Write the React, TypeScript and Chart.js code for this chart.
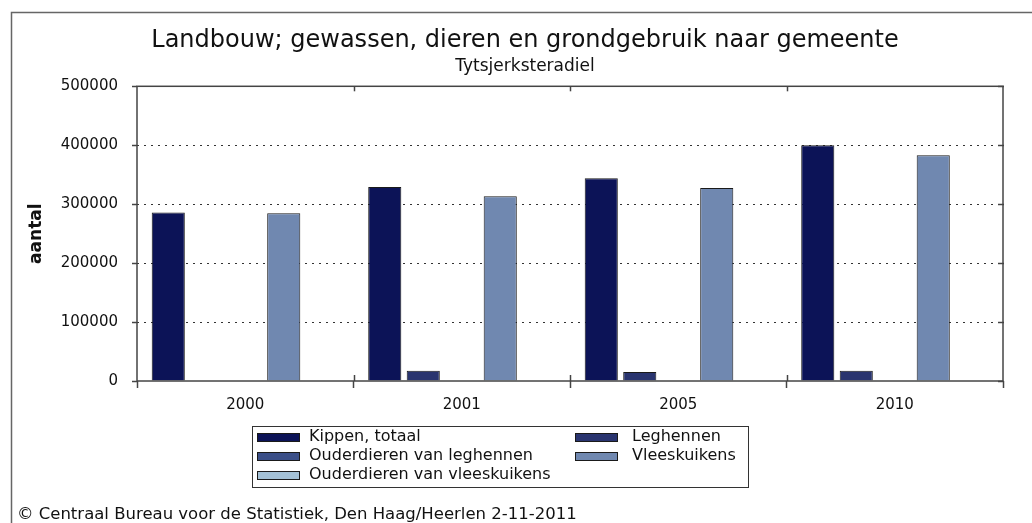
import React, { useEffect, useRef } from "react";
import { Chart, registerables } from "chart.js";

Chart.register(...registerables);

const W = 1032;
const H = 523;

const categories = ["2000", "2001", "2005", "2010"];
const kippenTotaal = [286000, 329000, 344000, 400000];
const leghennen = [null, 17500, 15300, 17500];
const ouderdierenLeghennen = [null, null, null, null];
const vleeskuikens = [284500, 313500, 327600, 383000];
const ouderdierenVleeskuikens = [null, null, null, null];

const seriesLabels = [
  "Kippen, totaal",
  "Leghennen",
  "Ouderdieren van leghennen",
  "Vleeskuikens",
  "Ouderdieren van vleeskuikens",
];
const seriesColors = ["#0c1357", "#29346f", "#3b4f88", "#7088b0", "#a4c1d6"];
const yTicks = [0, 100000, 200000, 300000, 400000, 500000];

const titleText = "Landbouw; gewassen, dieren en grondgebruik naar gemeente";
const subtitleText = "Tytsjerksteradiel";
const yAxisTitle = "aantal";
const footerText = "© Centraal Bureau voor de Statistiek, Den Haag/Heerlen 2-11-2011";

const FONT = "'DejaVu Sans', Verdana, sans-serif";

const decorPlugin = {
  id: "cbsDecor",
  beforeDraw(chart: any) {
    const { ctx, width, height } = chart;
    ctx.save();
    ctx.fillStyle = "#ffffff";
    ctx.fillRect(0, 0, width, height);
    ctx.restore();
  },
  afterDraw(chart: any) {
    const { ctx, chartArea: a, scales } = chart;
    const ys = scales.y;
    const xs = scales.x;
    const line = (x1: number, y1: number, x2: number, y2: number) => {
      ctx.beginPath();
      ctx.moveTo(x1, y1);
      ctx.lineTo(x2, y2);
      ctx.stroke();
    };
    ctx.save();
    // outer frame
    ctx.strokeStyle = "#666";
    ctx.lineWidth = 1.5;
    ctx.beginPath();
    ctx.moveTo(11.5, chart.height);
    ctx.lineTo(11.5, 12.5);
    ctx.lineTo(chart.width, 12.5);
    ctx.stroke();

    // plot border
    ctx.strokeStyle = "#444";
    ctx.lineWidth = 1.5;
    ctx.strokeRect(a.left, a.top, a.right - a.left, a.bottom - a.top);

    // right-side tick marks
    yTicks.forEach((v) => {
      const py = Math.round(ys.getPixelForValue(v)) + 0.5;
      line(a.right - 5, py, a.right + 1, py);
    });
    // category boundary ticks (top, inner bottom)
    for (let i = 1; i < categories.length; i++) {
      const px = Math.round((xs.getPixelForValue(i - 1) + xs.getPixelForValue(i)) / 2) + 0.5;
      line(px, a.top, px, a.top + 5);
      line(px, a.bottom - 6, px, a.bottom);
    }

    // legend box
    const bx = 252, by = 426, bw = 496, bh = 61;
    ctx.strokeStyle = "#333";
    ctx.lineWidth = 1;
    ctx.strokeRect(bx + 0.5, by + 0.5, bw, bh);
    const cols = [257, 575];
    const textX = [309, 632];
    const rows = [437, 456, 475];
    ctx.font = `16px ${FONT}`;
    ctx.textBaseline = "middle";
    ctx.textAlign = "left";
    seriesLabels.forEach((lab, i) => {
      const c = i % 2;
      const r = Math.floor(i / 2);
      const sx = cols[c];
      const sy = rows[r];
      ctx.fillStyle = seriesColors[i];
      ctx.fillRect(sx, sy - 4, 42, 8);
      ctx.strokeStyle = "#1a1a1a";
      ctx.strokeRect(sx + 0.5, sy - 4 + 0.5, 42, 8);
      ctx.fillStyle = "#111";
      ctx.fillText(lab, textX[c], sy);
    });

    // footer
    ctx.font = `16.5px ${FONT}`;
    ctx.fillStyle = "#111";
    ctx.textBaseline = "middle";
    ctx.fillText(footerText, 17, 515);
    ctx.restore();
  },
};

export default function App() {
  const ref = useRef<HTMLCanvasElement | null>(null);

  useEffect(() => {
    if (!ref.current) return;
    const series = [kippenTotaal, leghennen, ouderdierenLeghennen, vleeskuikens, ouderdierenVleeskuikens];
    const chart = new Chart(ref.current, {
      type: "bar",
      data: {
        labels: categories,
        datasets: series.map((d, i) => ({
          label: seriesLabels[i],
          data: d,
          backgroundColor: seriesColors[i],
          borderColor: "#1a1a1a",
          borderWidth: 1,
          categoryPercentage: 0.889,
          barPercentage: 0.86,
        })),
      },
      options: {
        responsive: false,
        animation: false,
        devicePixelRatio: 1,
        layout: { padding: { left: 18, right: 0, top: 12, bottom: 102 } },
        plugins: {
          legend: { display: false },
          tooltip: { enabled: false },
          title: {
            display: true,
            text: titleText,
            color: "#111",
            font: { family: FONT, size: 24, weight: "normal" },
            padding: { top: 14.6, bottom: 0 },
          },
          subtitle: {
            display: true,
            text: subtitleText,
            color: "#111",
            font: { family: FONT, size: 17, weight: "normal" },
            padding: { top: 0.5, bottom: 10 },
          },
        },
        scales: {
          x: {
            offset: true,
            grid: {
              offset: true,
              drawOnChartArea: false,
              drawTicks: true,
              tickLength: 7,
              tickColor: "#444",
              tickWidth: 1.5,
            },
            border: { display: false },
            ticks: { color: "#111", font: { family: FONT, size: 15 }, padding: 8 },
            afterFit: (s: any) => {
              s.height = 40;
            },
          },
          y: {
            min: 0,
            max: 500000,
            afterBuildTicks: (s: any) => {
              s.ticks = yTicks.map((v) => ({ value: v }));
            },
            grid: {
              color: (c: any) =>
                c.tick && (c.tick.value === 0 || c.tick.value === 500000) ? "rgba(0,0,0,0)" : "#333",
              lineWidth: 1,
              drawTicks: true,
              tickLength: 5,
              tickColor: "#444",
              tickWidth: 1.5,
              tickBorderDash: [],
            },
            border: { display: false, dash: [2, 5] },
            ticks: {
              color: "#111",
              font: { family: FONT, size: 15 },
              padding: 14,
              callback: (v: any) => String(v),
            },
            title: {
              display: true,
              text: yAxisTitle,
              color: "#111",
              font: { family: FONT, size: 17, weight: "bold" },
              padding: { top: 8, bottom: 0 },
            },
            afterFit: (s: any) => {
              s.width = 119;
            },
          },
          yRight: {
            type: "linear",
            position: "right",
            display: true,
            grid: { display: false },
            border: { display: false },
            ticks: { display: false },
            afterFit: (s: any) => {
              s.width = 29;
            },
          },
        },
      },
      plugins: [decorPlugin],
    } as any);
    return () => chart.destroy();
  }, []);

  return (
    <div style={{ position: "absolute", left: 0, top: 0, width: W, height: H, background: "#fff" }}>
      <canvas ref={ref} width={W} height={H} style={{ display: "block", width: W, height: H }} />
    </div>
  );
}
